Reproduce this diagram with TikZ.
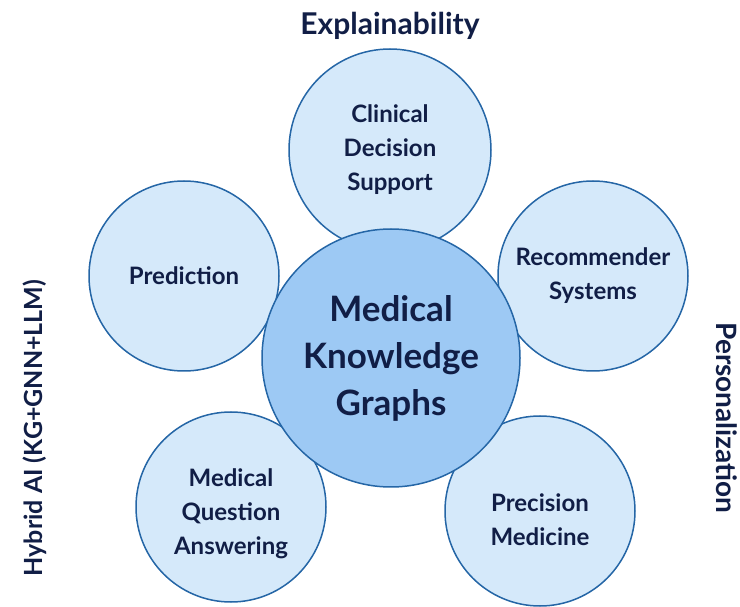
\documentclass[tikz,border=0pt]{standalone}
\usepackage{fontspec}
\setmainfont{Lato}
\definecolor{navy}{HTML}{111E46}
\definecolor{rimblue}{HTML}{2566A6}
\definecolor{paleblue}{HTML}{D5E9FA}
\definecolor{hubblue}{HTML}{9DC9F4}

\begin{document}
\begin{tikzpicture}[x=1pt,y=1pt,
  app/.style={circle,draw=rimblue,line width=1.5pt,fill=paleblue,
    minimum size=190pt,inner sep=0pt,align=center,text=navy,
    font=\bfseries\fontsize{24}{34}\selectfont},
  hub/.style={app,fill=hubblue,minimum size=258pt,
    font=\bfseries\fontsize{35}{47}\selectfont},
  theme/.style={text=navy,font=\bfseries\fontsize{28}{32}\selectfont}]
\useasboundingbox (0,0) rectangle (740,606);

% application circles
\node[app,minimum size=202pt] (cds) at (390,456) {Clinical\\Decision\\Support};
\node[app] (pred) at (184,330) {Prediction};
\node[app] (rec) at (593,330) {Recommender\\Systems};
\node[app] (mqa) at (231,99) {\rule{0pt}{32pt}Medical\\Question\\Answering};
\node[app] (prec) at (540,95) {\rule{0pt}{35pt}Precision\\Medicine};

% centre on top
\node[hub] (mkg) at (391,248) {Medical\\Knowledge\\Graphs};

% themes round the edge
\node[theme,font=\bfseries\fontsize{30}{34}\selectfont] (expl) at (390,580) {Explainability};
\node[theme,rotate=-90] (pers) at (727,188) {Personalization};
\node[theme,rotate=90,font=\bfseries\fontsize{25}{30}\selectfont] (hyb) at (35,178) {Hybrid AI (KG+GNN+LLM)};
\end{tikzpicture}
\end{document}
